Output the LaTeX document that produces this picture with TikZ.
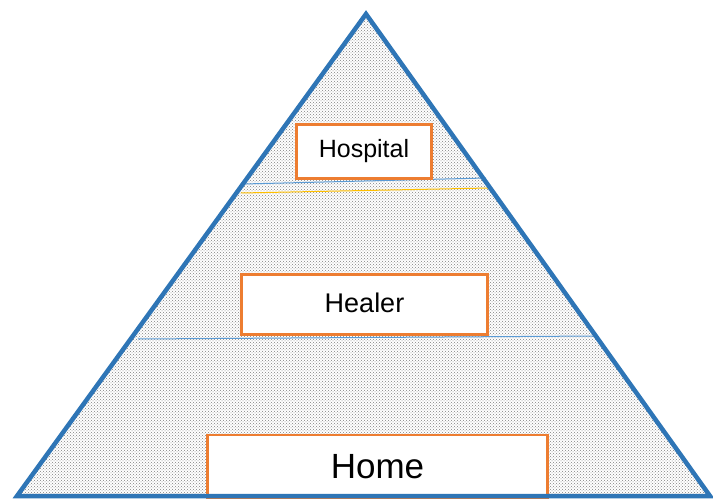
\documentclass[tikz,border=0pt]{standalone}
\usepackage{fontspec}
\setmainfont{Liberation Sans}
\usetikzlibrary{patterns}
\definecolor{triblue}{HTML}{2E75B6}
\definecolor{lineblue}{HTML}{5B9BD5}
\definecolor{boxorange}{HTML}{ED7D31}
\definecolor{lineyellow}{HTML}{FFC000}
\tikzset{
  levelbox/.style={draw=boxorange, line width=2.4pt, fill=white, inner sep=0pt},
  sepline/.style={line width=1pt},
}
\begin{document}
\begin{tikzpicture}[x=1pt,y=-1pt]
\useasboundingbox (0,0) rectangle (713,500);
\coordinate (apex) at (366,14);
\coordinate (bl) at (17,496);
\coordinate (br) at (710,496);
\fill[white] (apex) -- (bl) -- (br) -- cycle;
\fill[pattern=crosshatch dots, pattern color=gray] (apex) -- (bl) -- (br) -- cycle;
% separator lines
\coordinate (h1) at (243,184);
\coordinate (h2) at (486,178);
\coordinate (y1) at (241,193);
\coordinate (y2) at (489,188);
\coordinate (m1) at (138,339);
\coordinate (m2) at (597,336);
\draw[sepline, lineblue] (h1) -- (h2);
\draw[sepline, lineyellow] (y1) -- (y2);
\draw[sepline, lineblue] (m1) -- (m2);
% boxes
\node[levelbox, minimum width=135pt, minimum height=54pt] (hospital) at (364,151.5) {\fontsize{25}{28}\selectfont Hospital};
\node[levelbox, minimum width=246pt, minimum height=60pt] (healer) at (364.5,304.5) {\raisebox{4pt}{\fontsize{27}{30}\selectfont Healer}};
\node[levelbox, minimum width=340pt, minimum height=63pt] (home) at (377.5,466.5) {\fontsize{35}{40}\selectfont Home};
% triangle outline
\draw[triblue, line width=4.5pt, line join=miter] (apex) -- (bl) -- (br) -- cycle;
\end{tikzpicture}
\end{document}
